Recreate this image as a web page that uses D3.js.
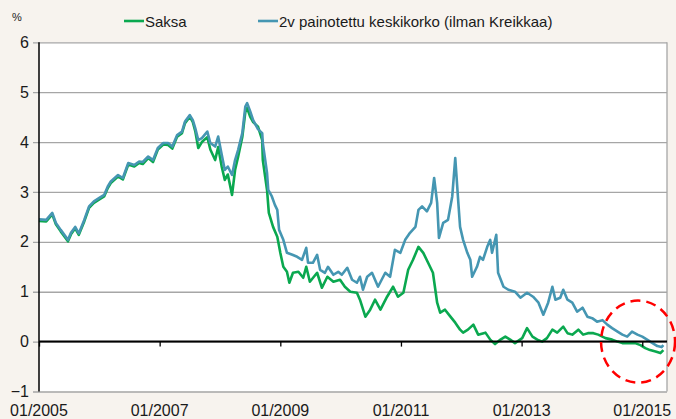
<!DOCTYPE html>
<html><head><meta charset="utf-8">
<script src="https://cdn.jsdelivr.net/npm/d3@7/dist/d3.min.js"></script>
<style>
html,body{margin:0;padding:0;background:#f7f3ee;}
svg{display:block;font-family:"Liberation Sans",Arial,sans-serif;}
</style></head>
<body><svg id="c" width="676" height="419"></svg>
<script>
// Time in decimal years
const keskiT = [2005.00,2005.12,2005.22,2005.28,2005.36,2005.48,2005.53,2005.60,2005.66,2005.75,2005.83,2005.91,2006.00,2006.08,2006.14,2006.19,2006.31,2006.39,2006.48,2006.58,2006.66,2006.72,2006.81,2006.89,2006.97,2007.06,2007.14,2007.21,2007.29,2007.37,2007.42,2007.50,2007.55,2007.59,2007.64,2007.70,2007.79,2007.84,2007.92,2007.97,2008.03,2008.08,2008.13,2008.20,2008.25,2008.30,2008.37,2008.42,2008.45,2008.50,2008.55,2008.63,2008.70,2008.71,2008.78,2008.80,2008.86,2008.91,2008.95,2008.98,2009.05,2009.11,2009.20,2009.28,2009.36,2009.43,2009.46,2009.54,2009.61,2009.66,2009.74,2009.79,2009.88,2009.96,2010.02,2010.11,2010.19,2010.27,2010.32,2010.37,2010.44,2010.52,2010.62,2010.74,2010.82,2010.90,2010.99,2011.07,2011.15,2011.24,2011.29,2011.35,2011.43,2011.50,2011.55,2011.60,2011.63,2011.70,2011.78,2011.85,2011.90,2011.95,2011.98,2012.03,2012.10,2012.15,2012.18,2012.26,2012.31,2012.36,2012.43,2012.48,2012.51,2012.58,2012.61,2012.70,2012.78,2012.89,2012.98,2013.09,2013.19,2013.28,2013.36,2013.44,2013.51,2013.56,2013.64,2013.69,2013.76,2013.84,2013.92,2014.01,2014.09,2014.17,2014.25,2014.34,2014.42,2014.50,2014.59,2014.67,2014.75,2014.83,2014.92,2015.00,2015.08,2015.17,2015.25,2015.32,2015.35];
const keskiV = [2.45,2.44,2.58,2.38,2.24,2.04,2.18,2.30,2.17,2.44,2.71,2.81,2.88,2.94,3.11,3.21,3.34,3.28,3.58,3.54,3.61,3.60,3.71,3.64,3.88,3.98,3.98,3.91,4.14,4.21,4.41,4.54,4.44,4.28,4.04,4.08,4.21,3.98,3.91,4.11,3.74,3.44,3.51,3.34,3.64,3.84,4.18,4.71,4.78,4.62,4.44,4.26,4.18,3.98,3.38,3.04,2.91,2.74,2.64,2.24,2.04,1.78,1.74,1.70,1.64,1.88,1.58,1.58,1.74,1.44,1.38,1.50,1.34,1.40,1.34,1.48,1.24,1.18,1.30,1.04,1.30,1.38,1.10,1.38,1.30,1.84,1.78,2.04,2.18,2.30,2.64,2.71,2.61,2.78,3.28,2.78,2.08,2.38,2.44,2.91,3.68,2.80,2.30,2.04,1.78,1.64,1.30,1.50,1.70,1.64,1.90,2.04,1.78,2.14,1.38,1.10,1.04,1.00,0.88,0.98,0.90,0.78,0.54,0.78,1.10,0.84,0.88,1.04,0.84,0.78,0.60,0.68,0.50,0.47,0.40,0.43,0.34,0.27,0.20,0.14,0.10,0.20,0.14,0.10,0.04,-0.03,-0.09,-0.11,-0.07];

const saksaT = [2005.00,2005.12,2005.22,2005.28,2005.36,2005.48,2005.53,2005.60,2005.66,2005.75,2005.83,2005.91,2006.00,2006.08,2006.14,2006.19,2006.31,2006.39,2006.48,2006.58,2006.66,2006.72,2006.81,2006.89,2006.97,2007.06,2007.14,2007.21,2007.29,2007.37,2007.42,2007.50,2007.55,2007.59,2007.64,2007.70,2007.79,2007.84,2007.92,2007.97,2008.03,2008.08,2008.13,2008.20,2008.25,2008.30,2008.37,2008.42,2008.45,2008.50,2008.55,2008.63,2008.70,2008.71,2008.78,2008.81,2008.88,2008.95,2009.00,2009.05,2009.11,2009.15,2009.21,2009.30,2009.38,2009.43,2009.49,2009.61,2009.69,2009.78,2009.88,2009.99,2010.07,2010.16,2010.27,2010.32,2010.41,2010.49,2010.57,2010.66,2010.77,2010.87,2010.95,2011.04,2011.12,2011.20,2011.29,2011.37,2011.45,2011.53,2011.60,2011.65,2011.73,2011.82,2011.90,2011.98,2012.03,2012.11,2012.20,2012.28,2012.40,2012.48,2012.56,2012.65,2012.73,2012.81,2012.89,2013.01,2013.09,2013.18,2013.26,2013.34,2013.42,2013.51,2013.59,2013.69,2013.76,2013.84,2013.94,2014.02,2014.10,2014.19,2014.27,2014.39,2014.50,2014.59,2014.67,2014.77,2014.88,2014.97,2015.05,2015.13,2015.22,2015.30,2015.35];
const saksaV = [2.42,2.41,2.55,2.35,2.21,2.01,2.15,2.27,2.14,2.41,2.68,2.78,2.85,2.91,3.08,3.18,3.31,3.25,3.55,3.51,3.58,3.56,3.68,3.60,3.85,3.95,3.94,3.87,4.11,4.18,4.38,4.51,4.40,4.22,3.88,4.00,4.10,3.85,3.64,3.90,3.50,3.24,3.35,2.94,3.44,3.70,4.10,4.60,4.68,4.51,4.40,4.31,4.04,3.64,3.04,2.58,2.30,2.10,1.78,1.50,1.40,1.18,1.38,1.40,1.28,1.50,1.20,1.38,1.08,1.30,1.20,1.24,1.10,1.00,0.98,0.84,0.50,0.64,0.84,0.64,0.90,1.10,0.90,0.98,1.44,1.64,1.90,1.78,1.58,1.38,0.78,0.58,0.64,0.50,0.38,0.24,0.18,0.24,0.34,0.14,0.18,0.04,-0.05,0.04,0.10,0.04,-0.03,0.07,0.27,0.10,0.04,0.00,0.07,0.24,0.18,0.30,0.17,0.14,0.24,0.14,0.17,0.17,0.14,0.07,0.04,0.00,-0.03,-0.03,-0.03,-0.07,-0.13,-0.17,-0.20,-0.23,-0.17];

const yTicks = [-1,0,1,2,3,4,5,6];
const xTicks = [2005,2007,2009,2011,2013,2015];
const xTickLabels = ["01/2005","01/2007","01/2009","01/2011","01/2013","01/2015"];
const seriesNames = ["Saksa","2v painotettu keskikorko (ilman Kreikkaa)"];
const seriesColors = ["#0aa84f","#4596b2"];

const svg = d3.select("#c");
const L=39, R=667, T=42.3, B=391.5;
const x = d3.scaleLinear().domain([2005, 2015.41]).range([L, R]);
const y = d3.scaleLinear().domain([-1, 6]).range([B, T]);

// plot background
svg.append("rect").attr("x",L).attr("y",T).attr("width",R-L).attr("height",B-T).attr("fill","#ffffff");

// gridlines + y tick marks
const yAxis = d3.axisLeft(y).tickValues(yTicks).tickSize(-(R-L)).tickPadding(10).tickFormat(d3.format("d"));
const ga = svg.append("g").attr("transform",`translate(${L},0)`).call(yAxis);
ga.select(".domain").remove();
ga.selectAll(".tick line").attr("stroke","#a6a6a6").attr("stroke-width",1.3).attr("x1",-6);
ga.selectAll(".tick text").attr("font-size",16).attr("fill","#1a1a1a").attr("font-family","Liberation Sans, Arial, sans-serif");

// right border
svg.append("line").attr("x1",R).attr("x2",R).attr("y1",T).attr("y2",B).attr("stroke","#a6a6a6").attr("stroke-width",1.3);

// lines
const line = d3.line().x(d=>x(d[0])).y(d=>y(d[1]));
const saksa = saksaT.map((t,i)=>[t,saksaV[i]]);
const keski = keskiT.map((t,i)=>[t,keskiV[i]]);
svg.append("path").datum(saksa).attr("d",line).attr("fill","none").attr("stroke",seriesColors[0]).attr("stroke-width",2.6).attr("stroke-linejoin","round");
svg.append("path").datum(keski).attr("d",line).attr("fill","none").attr("stroke",seriesColors[1]).attr("stroke-width",2.6).attr("stroke-linejoin","round");

// zero axis with ticks
const xAxis = d3.axisBottom(x).tickValues(xTicks).tickSize(5).tickFormat("");
const gx = svg.append("g").attr("transform",`translate(0,${y(0)})`).call(xAxis);
gx.select(".domain").attr("stroke","#000").attr("stroke-width",2).attr("d",`M${L},0H${R}`);
gx.selectAll(".tick line").attr("stroke","#000").attr("stroke-width",1.3);

// left axis line
svg.append("line").attr("x1",L).attr("x2",L).attr("y1",T).attr("y2",B).attr("stroke","#000").attr("stroke-width",1.5);

// x labels at bottom
svg.append("g").selectAll("text").data(xTicks).join("text")
  .attr("x",d=>x(d)).attr("y",416).attr("text-anchor","middle")
  .attr("font-size",16).attr("fill","#1a1a1a").text((d,i)=>xTickLabels[i]);

// unit
svg.append("text").attr("x",12).attr("y",21).attr("font-size",11).attr("fill","#1a1a1a").text("%");

// legend
const leg = [{x:124,w:20},{x:258,w:20}];
leg.forEach((p,i)=>{
  svg.append("line").attr("x1",p.x).attr("x2",p.x+p.w).attr("y1",21).attr("y2",21).attr("stroke",seriesColors[i]).attr("stroke-width",2.6);
  svg.append("text").attr("x",p.x+p.w+1).attr("y",27).attr("font-size",15).attr("fill","#1a1a1a").text(seriesNames[i]);
});

// red dashed annotation ellipse
svg.append("ellipse").attr("cx",x(2014.93)).attr("cy",y(0)).attr("rx",37).attr("ry",41)
  .attr("fill","none").attr("stroke","#ff0000").attr("stroke-width",2.5).attr("stroke-dasharray","10,6");
</script></body></html>
